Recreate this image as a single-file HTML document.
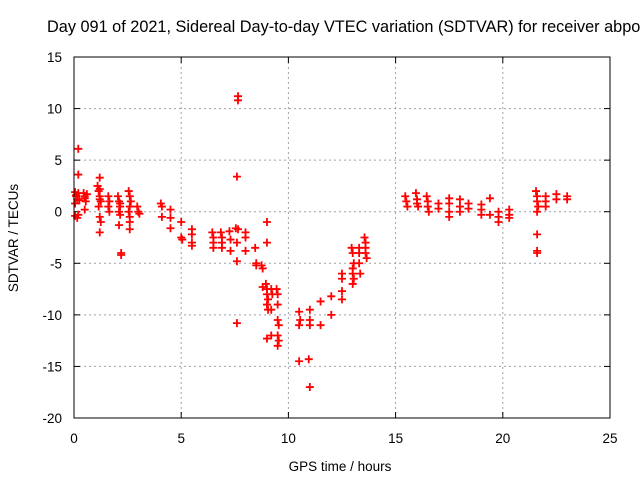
<!DOCTYPE html>
<html><head><meta charset="utf-8"><style>
body{margin:0;background:#fff}
svg text{font-family:"Liberation Sans",sans-serif;font-size:13.5px;fill:#000}
</style></head><body>
<svg id="chart" width="640" height="480" viewBox="0 0 640 480">
<text x="47" y="32" style="font-size:16.3px">Day 091 of 2021, Sidereal Day-to-day VTEC variation (SDTVAR) for receiver abpo</text>
<g id="grid"></g>
<g id="ticks"></g>
<g id="marks"></g>
<rect x="74" y="57" width="536" height="361" fill="none" stroke="#000" stroke-width="1"/>
<text x="340" y="471" text-anchor="middle">GPS time / hours</text>
<text transform="translate(18,238) rotate(-90)" text-anchor="middle">SDTVAR / TECUs</text>
</svg>
<script>
const xTicks=[0,5,10,15,20,25];
const yTicks=[15,10,5,0,-5,-10,-15,-20];
const tHours=[0.05,0.1,0.15,0.05,0.1,0.2,0.25,0.05,0.15,0.2,0.2,0.2,0.45,0.5,0.55,0.5,0.5,0.6,
1.1,1.15,1.2,1.25,1.15,1.2,1.25,1.2,1.2,1.2,1.2,1.6,1.65,1.6,1.65,2.05,2.1,2.15,2.1,2.15,2.1,2.2,2.2,2.15,
2.55,2.6,2.65,2.6,2.55,2.6,2.6,2.6,2.95,3.0,3.05,4.05,4.1,4.1,4.5,4.5,4.5,5.0,5.0,5.05,5.5,5.5,5.5,5.5,
6.45,6.5,6.5,6.5,6.85,6.9,6.9,6.9,7.25,7.3,7.3,7.55,7.6,7.6,7.6,7.65,7.65,7.6,7.65,8.0,8.0,8.0,8.45,8.5,8.5,
8.75,8.8,8.8,8.95,9.0,9.0,9.05,9.0,9.05,9.0,9.0,9.0,9.2,9.25,9.2,9.2,9.45,9.5,9.5,9.5,9.55,9.5,9.55,9.5,
10.5,10.55,10.5,10.5,11.0,11.0,11.0,10.95,11.0,11.5,11.5,12.0,12.0,12.5,12.5,12.5,12.5,
12.95,13.0,13.05,13.0,13.0,13.05,13.0,13.3,13.3,13.3,13.35,13.55,13.6,13.6,13.6,13.65,
15.45,15.5,15.55,15.95,16.0,16.0,16.05,16.45,16.5,16.5,16.55,17.0,17.0,17.5,17.5,17.5,17.5,18.0,18.0,18.0,18.4,18.4,
19.0,19.0,19.0,19.4,19.4,19.8,19.8,19.8,20.3,20.3,20.3,21.55,21.6,21.6,21.65,21.6,21.6,21.6,21.6,22.0,22.0,22.0,22.5,22.5,23.0,23.0];
const vTec=[1.9,1.5,1.2,0.8,1.6,1.8,1.1,-0.4,-0.6,-0.3,6.1,3.6,1.8,1.3,1.0,1.5,0.2,1.7,
2.5,2.0,1.5,1.0,0.5,-0.5,-1.0,-2.0,3.3,2.2,1.2,1.5,1.0,0.5,0.0,1.5,1.0,0.5,0.0,-0.3,-1.3,-4.0,-4.2,0.8,
2.0,1.5,1.0,0.5,0.0,-0.5,-1.0,-1.7,0.5,0.0,-0.2,0.8,0.5,-0.5,0.2,-0.6,-1.6,-1.0,-2.5,-2.7,-1.7,-2.2,-3.0,-3.3,
-2.0,-2.5,-3.0,-3.5,-2.0,-2.5,-3.0,-3.5,-1.9,-2.7,-3.8,-1.6,-3.0,-4.8,3.4,11.2,10.8,-10.8,-1.7,-2.0,-2.5,-3.8,-3.5,-5.0,-5.2,
-5.2,-5.5,-7.3,-7.0,-7.5,-8.0,-8.5,-9.0,-9.5,-12.3,-1.0,-3.0,-7.5,-8.0,-9.5,-12.0,-7.5,-8.0,-9.0,-10.5,-11.0,-12.0,-12.5,-13.0,
-9.7,-10.5,-11.0,-14.5,-9.5,-10.5,-11.0,-14.3,-17.0,-8.7,-11.0,-8.2,-10.0,-6.0,-6.5,-7.7,-8.5,
-3.5,-4.0,-5.0,-5.5,-6.0,-6.5,-7.0,-3.5,-4.0,-5.0,-6.0,-2.5,-3.0,-3.5,-4.0,-4.5,
1.5,1.0,0.5,1.8,1.2,0.8,0.5,1.5,1.0,0.5,0.0,0.8,0.3,1.3,0.8,0.0,-0.5,1.2,0.5,0.0,0.8,0.3,
0.7,0.2,-0.3,1.3,-0.3,0.0,-0.5,-1.0,0.2,-0.3,-0.6,2.0,1.5,1.0,0.5,0.0,-2.2,-3.8,-4.0,1.5,1.0,0.5,1.7,1.2,1.5,1.2];
const X0=74,X1=610,Y0=418,Y1=57;
const xs=t=>X0+(t-0)/(25-0)*(X1-X0);
const ys=v=>Y0-(v+20)/(15+20)*(Y0-Y1);
const NS="http://www.w3.org/2000/svg";
function mk(tag,parent){const e=document.createElementNS(NS,tag);parent.appendChild(e);return e;}
const grid=document.getElementById('grid'),ticks=document.getElementById('ticks'),marks=document.getElementById('marks');
xTicks.forEach(t=>{const x=xs(t);
 if(t>0&&t<25){const l=mk('line',grid);l.setAttribute('x1',x);l.setAttribute('x2',x);l.setAttribute('y1',Y1);l.setAttribute('y2',Y0);l.setAttribute('stroke','#a0a0a0');l.setAttribute('stroke-dasharray','2,3');
 
 }
 [[Y0,Y0-6],[Y1,Y1+6]].forEach(p=>{const k=mk('line',ticks);k.setAttribute('x1',x);k.setAttribute('x2',x);k.setAttribute('y1',p[0]);k.setAttribute('y2',p[1]);k.setAttribute('stroke','#000');
 
 });
 const tx=mk('text',ticks);tx.setAttribute('x',x);tx.setAttribute('y',443);tx.setAttribute('text-anchor','middle');tx.textContent=t;
 
 
});
yTicks.forEach(v=>{const y=ys(v);
 if(v>-20&&v<15){const l=mk('line',grid);l.setAttribute('x1',X0);l.setAttribute('x2',X1);l.setAttribute('y1',y);l.setAttribute('y2',y);l.setAttribute('stroke','#a0a0a0');l.setAttribute('stroke-dasharray','2,3');
 
 }
 [[X0,X0+6],[X1,X1-6]].forEach(p=>{const k=mk('line',ticks);k.setAttribute('y1',y);k.setAttribute('y2',y);k.setAttribute('x1',p[0]);k.setAttribute('x2',p[1]);k.setAttribute('stroke','#000');
 
 });
 const tx=mk('text',ticks);tx.setAttribute('x',62);tx.setAttribute('y',y+5);tx.setAttribute('text-anchor','end');tx.textContent=v;
 
 
});
tHours.forEach((t,i)=>{const x=xs(t),y=ys(vTec[i]);
 const p=mk('path',marks);p.setAttribute('d',`M${x-4},${y}H${x+4}M${x},${y-4}V${y+4}`);p.setAttribute('stroke','#ff0000');p.setAttribute('stroke-width','1.8');p.setAttribute('fill','none');
 
 
});
</script>
</body></html>
